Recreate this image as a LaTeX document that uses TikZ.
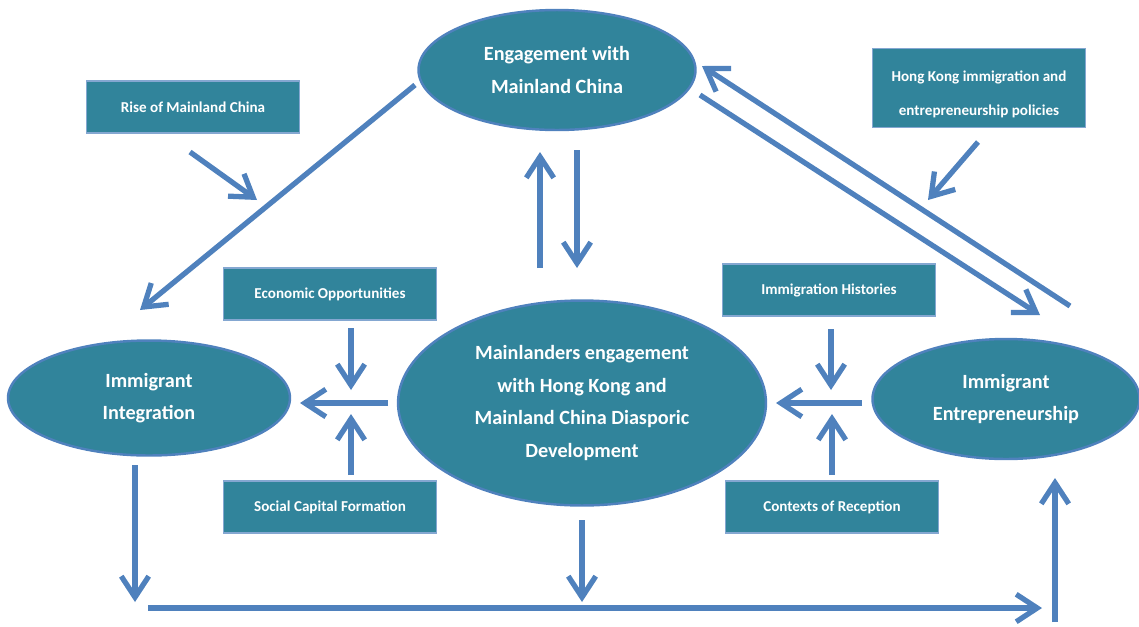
\documentclass[tikz,border=0pt]{standalone}
\usepackage{fontspec}
\setmainfont{Carlito}
\usetikzlibrary{shapes,arrows.meta,positioning,calc}
\definecolor{tealfill}{RGB}{49,132,155}
\definecolor{lineblue}{RGB}{79,129,189}

\begin{document}
\begin{tikzpicture}[x=0.02cm, y=-0.02cm,
    ell/.style={ellipse, draw=lineblue, line width=1.4pt, fill=tealfill, text=white,
                inner sep=0pt, align=center, font=\fontsize{11.5}{18.5}\selectfont\bfseries},
    fac/.style={rectangle, draw=lineblue!70, line width=0.8pt, fill=tealfill, text=white,
                inner sep=0pt, align=center, minimum width=4.27cm, minimum height=1.04cm,
                font=\fontsize{8.6}{19.5}\selectfont\bfseries},
    arr/.style={-{Straight Barb[length=0.42cm, width=0.55cm]}, line width=3pt, lineblue}]
\useasboundingbox (0,0) rectangle (1139,626);
% ellipses
\node[ell, minimum width=5.54cm, minimum height=2.4cm] (china) at (557,70) {Engagement with\\Mainland China};
\node[ell, minimum width=7.36cm, minimum height=4.1cm] (dev) at (582,403)
     {Mainlanders engagement\\with Hong Kong and\\Mainland China Diasporic\\Development};
\node[ell, minimum width=5.64cm, minimum height=2.3cm] (integ) at (149,398) {Immigrant\\Integration};
\node[ell, minimum width=5.34cm, minimum height=2.4cm] (entre) at (1006,399) {Immigrant\\Entrepreneurship};
% factor boxes
\node[fac, minimum height=1.58cm, text height=1.14cm] (hk) at (979,88) {Hong Kong immigration and\\entrepreneurship policies};
\node[fac] (rise) at (193,107) {Rise of Mainland China};
\node[fac] (econ) at (330,294) {Economic Opportunities};
\node[fac] (social) at (330,507) {Social Capital Formation};
\node[fac] (hist) at (829,290) {Immigration Histories};
\node[fac] (recep) at (832,507) {Contexts of Reception};
% arrow ends
\coordinate (chinaL) at (415,85);   \coordinate (integT) at (140,310);
\coordinate (riseA) at (190,152);   \coordinate (riseB) at (257,200);
\coordinate (upA) at (540,268);     \coordinate (upB) at (540,152);
\coordinate (dnA) at (577,150);     \coordinate (dnB) at (577,268);
\coordinate (outA) at (700,95);     \coordinate (outB) at (1040,315);
\coordinate (backA) at (1070,306);  \coordinate (backB) at (702,66);
\coordinate (hkA) at (978,142);     \coordinate (hkB) at (928,200);
\coordinate (lhA) at (388,403);     \coordinate (lhB) at (300,403);
\coordinate (lvA) at (351,328);     \coordinate (lvB) at (351,390);
\coordinate (lvC) at (351,475);     \coordinate (lvD) at (351,414);
\coordinate (rhA) at (862,403);     \coordinate (rhB) at (776,403);
\coordinate (rvA) at (831,329);     \coordinate (rvB) at (831,390);
\coordinate (rvC) at (832,475);     \coordinate (rvD) at (832,414);
\coordinate (blA) at (135,465);     \coordinate (blB) at (135,602);
\coordinate (bmA) at (582,520);     \coordinate (bmB) at (582,602);
\coordinate (bhA) at (148,608);     \coordinate (bhB) at (1042,608);
\coordinate (brA) at (1055,622);    \coordinate (brB) at (1055,478);
% connectors
\draw[arr] (chinaL) -- (integT);
\draw[arr] (riseA) -- (riseB);
\draw[arr] (upA) -- (upB);
\draw[arr] (dnA) -- (dnB);
\draw[arr] (outA) -- (outB);
\draw[arr] (backA) -- (backB);
\draw[arr] (hkA) -- (hkB);
\draw[arr] (lhA) -- (lhB);
\draw[arr] (lvA) -- (lvB);
\draw[arr] (lvC) -- (lvD);
\draw[arr] (rhA) -- (rhB);
\draw[arr] (rvA) -- (rvB);
\draw[arr] (rvC) -- (rvD);
\draw[arr] (blA) -- (blB);
\draw[arr] (bmA) -- (bmB);
\draw[arr] (bhA) -- (bhB);
\draw[arr] (brA) -- (brB);
\end{tikzpicture}
\end{document}
